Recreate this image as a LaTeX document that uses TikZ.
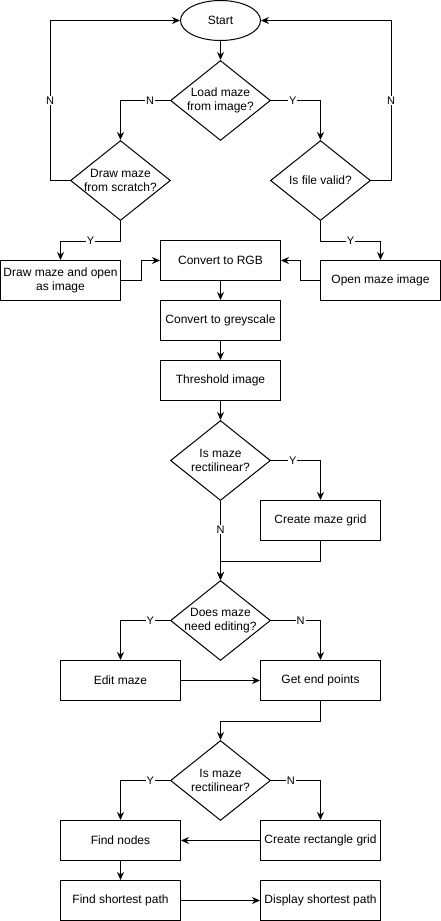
\documentclass[tikz,border=0pt]{standalone}
\usepackage{fontspec}
\setmainfont{Liberation Sans}
\usetikzlibrary{arrows.meta, positioning, shapes.geometric}

\begin{document}
\begin{tikzpicture}[x=1pt,y=1pt,on grid,line width=1pt,>={Stealth[length=8pt,width=7pt]},
        font={\fontsize{12}{14}\selectfont},
        process/.style={draw,rectangle,minimum width=120pt,minimum height=40pt,inner sep=0pt,align=center},
        decision/.style={draw,diamond,aspect=1.25,minimum width=100pt,minimum height=80pt,inner sep=-4pt,align=center},
        terminal/.style={draw,ellipse,minimum width=80pt,minimum height=40pt,inner sep=0pt},
        lbl/.style={fill=white,inner sep=1pt,font={\fontsize{11}{13}\selectfont}}]

        \useasboundingbox (-0.5,0.5) rectangle (440.5,-920.5);

        \node[terminal] (start) at (220,-20) {Start};
        \node[decision] (load) [below=80pt of start] {Load maze\\from image?};
        \node[decision] (scratch) [below left=80pt and 100pt of load] {Draw maze\\from scratch?};
        \node[decision] (valid) [below right=80pt and 100pt of load] {Is file valid?};
        \node[process] (rgb) [below=160pt of load] {Convert to RGB};
        \node[process] (drawopen) [below left=100pt and 60pt of scratch] {Draw maze and open\\as image};
        \node[process] (openimg) [below right=100pt and 60pt of valid] {Open maze image};
        \node[process] (grey) [below=60pt of rgb] {Convert to greyscale};
        \node[process] (thresh) [below=60pt of grey] {Threshold image};
        \node[decision] (rect1) [below=80pt of thresh] {Is maze\\rectilinear?};
        \node[process] (grid) [below right=60pt and 100pt of rect1] {Create maze grid};
        \node[decision] (editq) [below=160pt of rect1] {Does maze\\need editing?};
        \node[process] (edit) [below left=60pt and 100pt of editq] {Edit maze};
        \node[process] (ends) [below right=60pt and 100pt of editq] {Get end points};
        \node[decision] (rect2) [below=160pt of editq] {Is maze\\rectilinear?};
        \node[process] (nodes) [below left=60pt and 100pt of rect2] {Find nodes};
        \node[process] (rectgrid) [below right=60pt and 100pt of rect2] {Create rectangle grid};
        \node[process] (path) [below=60pt of nodes] {Find shortest path};
        \node[process] (display) [below=60pt of rectgrid] {Display shortest path};

        % top part
        \path[->] (start) edge (load)
                (rgb) edge (grey)
                (grey) edge (thresh)
                (thresh) edge (rect1)
                (rect1) edge node[lbl,pos=0.36] {N} (editq)
                (edit) edge (ends)
                (rectgrid) edge (nodes)
                (nodes) edge (path)
                (path) edge (display);

        \draw[->] (load.west) -| node[lbl,pos=0.2] {N} (scratch.north);
        \draw[->] (load.east) -| node[lbl,pos=0.22] {Y} (valid.north);
        \draw[->] (scratch.west) -- ++(-20,0) |- node[lbl,pos=0.25] {N} (start.west);
        \draw[->] (valid.east) -- ++(20,0) |- node[lbl,pos=0.25] {N} (start.east);
        \draw[->] (scratch.south) -- ++(0,-20) -| node[lbl,pos=0.25] {Y} (drawopen.north);
        \draw[->] (valid.south) -- ++(0,-20) -| node[lbl,pos=0.25] {Y} (openimg.north);
        \draw[->] (drawopen.east) -- ++(20,0) |- (rgb.west);
        \draw[->] (openimg.west) -- ++(-20,0) |- (rgb.east);

        % middle part
        \draw[->] (rect1.east) -| node[lbl,pos=0.22] {Y} (grid.north);
        \draw[->] (grid.south) -- ++(0,-20) -| (editq.north);
        \draw[->] (editq.west) -| node[lbl,pos=0.2] {Y} (edit.north);
        \draw[->] (editq.east) -| node[lbl,pos=0.3] {N} (ends.north);
        \draw[->] (ends.south) -- ++(0,-20) -| (rect2.north);

        % bottom part
        \draw[->] (rect2.west) -| node[lbl,pos=0.2] {Y} (nodes.north);
        \draw[->] (rect2.east) -| node[lbl,pos=0.2] {N} (rectgrid.north);
    \end{tikzpicture}
\end{document}
